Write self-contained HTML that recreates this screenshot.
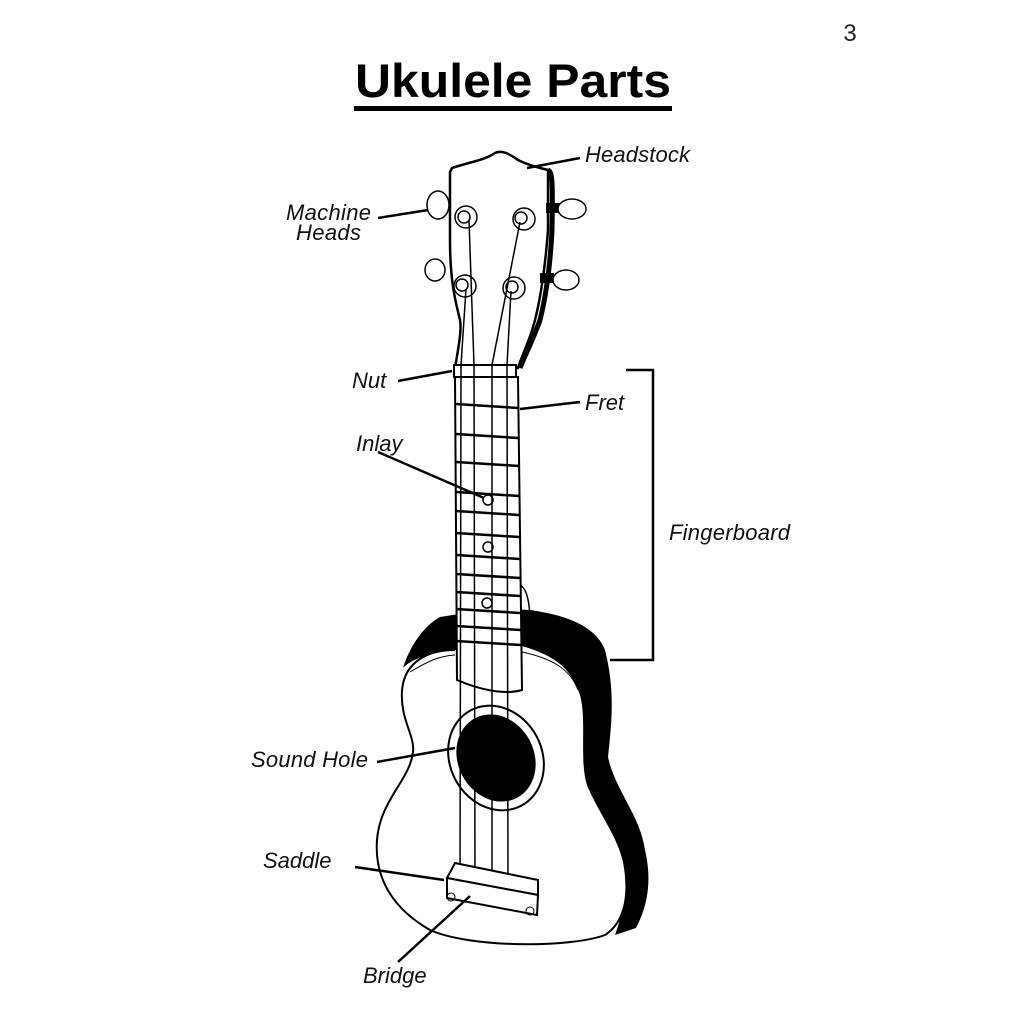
<!DOCTYPE html>
<html><head><meta charset="utf-8"><style>
html,body{margin:0;padding:0;background:#fff;}
svg{display:block}
text{font-family:"Liberation Sans",sans-serif;}
.l{font-style:italic;font-size:22px;fill:#111}
</style></head><body>
<svg width="1024" height="1024" viewBox="0 0 1024 1024" xmlns="http://www.w3.org/2000/svg">
<text x="850" y="41" font-size="24" text-anchor="middle" fill="#222">3</text>
<text x="355" y="97" font-size="47" font-weight="bold" textLength="316" lengthAdjust="spacingAndGlyphs" fill="#000">Ukulele Parts</text>
<rect x="354" y="106" width="318" height="5" fill="#000"/>

<!-- body black side -->
<path d="M440,617 C470,612 500,608 530,610 C565,615 595,625 605,650 C615,690 612,720 608,757 C615,790 640,815 645,850 C652,880 648,905 636,928 L615,935 C628,900 626,865 612,835 C596,805 583,785 583,760 C585,720 585,695 570,675 C555,655 540,648 522,645 L455,650 C430,652 410,660 403,668 C410,645 425,625 440,617 Z" fill="#000"/>
<!-- body front -->
<path d="M455,650 C430,650 405,660 402,690 C400,720 415,735 413,752 C410,780 380,800 377,840 C374,880 395,910 430,930 C470,948 570,948 605,935 C625,922 630,895 624,862 C618,835 598,810 588,785 C580,760 588,720 581,695 C573,670 558,655 522,645" fill="#fff" stroke="#000" stroke-width="2"/>
<path d="M410,672 C430,660 440,656 455,655 M522,652 C550,658 570,668 578,690" stroke="#000" stroke-width="1" fill="none"/>
<!-- sound hole -->
<ellipse cx="496" cy="758" rx="54" ry="46" transform="rotate(62 496 758)" fill="#fff" stroke="#000" stroke-width="2"/>
<ellipse cx="496" cy="758" rx="45" ry="38" transform="rotate(62 496 758)" fill="#000"/>

<!-- headstock -->
<path d="M452,168 C470,162 485,160 495,153 C502,150 508,153 518,160 C530,166 540,168 548,170 L548,230 C545,270 540,300 535,320 C530,340 522,355 518,368 L455,368 C458,350 462,330 460,320 C455,300 450,280 450,240 L450,172 Z" fill="#fff" stroke="#000" stroke-width="2.5"/>
<path d="M548,170 C552,172 553,178 552,230 C550,270 545,300 540,320 C533,340 525,355 520,368" fill="none" stroke="#000" stroke-width="5"/>
<!-- machine heads -->
<ellipse cx="438" cy="205" rx="11" ry="14" fill="#fff" stroke="#000" stroke-width="1.5"/>
<ellipse cx="435" cy="270" rx="10" ry="11" fill="#fff" stroke="#000" stroke-width="1.5"/>
<rect x="546" y="203" width="14" height="10" fill="#000"/>
<rect x="540" y="273" width="14" height="10" fill="#000"/>
<ellipse cx="572" cy="209" rx="14" ry="10" fill="#fff" stroke="#000" stroke-width="1.5"/>
<ellipse cx="566" cy="280" rx="13" ry="10" fill="#fff" stroke="#000" stroke-width="1.5"/>
<g fill="#fff" stroke="#000" stroke-width="1.5">
<circle cx="466" cy="217" r="11"/><circle cx="464" cy="217" r="6"/>
<circle cx="524" cy="219" r="11"/><circle cx="521" cy="218" r="6"/>
<circle cx="465" cy="286" r="11"/><circle cx="462" cy="285" r="6"/>
<circle cx="514" cy="288" r="11"/><circle cx="512" cy="287" r="6"/>
</g>
<!-- fingerboard -->
<path d="M455,377 L518,377 L522,690 C505,695 480,690 457,680 Z" fill="#fff" stroke="#000" stroke-width="2"/>
<path d="M520,585 C530,590 532,620 528,645 L522,645" fill="none" stroke="#000" stroke-width="1.5"/>
<g stroke="#000" stroke-width="2.5">
<line x1="456" y1="404" x2="518" y2="408"/><line x1="456" y1="434" x2="518" y2="438"/>
<line x1="456" y1="462" x2="519" y2="466"/><line x1="456" y1="492" x2="519" y2="496"/>
<line x1="456" y1="511" x2="519" y2="515"/><line x1="456" y1="533" x2="519" y2="537"/>
<line x1="456" y1="555" x2="520" y2="559"/><line x1="456" y1="574" x2="520" y2="578"/>
<line x1="456" y1="592" x2="520" y2="596"/><line x1="456" y1="609" x2="520" y2="613"/>
<line x1="456" y1="626" x2="521" y2="630"/><line x1="456" y1="641" x2="521" y2="645"/>
</g>
<g fill="#fff" stroke="#000" stroke-width="1.5">
<circle cx="488" cy="500" r="5"/><circle cx="488" cy="547" r="5"/><circle cx="487" cy="603" r="5"/>
</g>
<!-- nut -->
<rect x="454" y="365" width="62" height="12" fill="#fff" stroke="#000" stroke-width="2"/>
<!-- strings -->
<g stroke="#000" stroke-width="1.5" fill="none">
<path d="M469,220 L474,365 L475,880"/>
<path d="M466,289 L461,365 L460,880"/>
<path d="M520,222 L492,365 L492,880"/>
<path d="M511,291 L507,365 L508,880"/>
</g>
<!-- bridge -->
<path d="M447,878 L455,863 L538,880 L538,895 Z" fill="#fff" stroke="#000" stroke-width="2"/>
<path d="M447,878 L538,895 L537,915 L447,898 Z" fill="#fff" stroke="#000" stroke-width="2"/>
<circle cx="451" cy="897" r="4" fill="none" stroke="#000"/><circle cx="530" cy="911" r="4" fill="none" stroke="#000"/>

<!-- leader lines -->
<g stroke="#000" stroke-width="2.5" fill="none">
<line x1="527" y1="168" x2="580" y2="158"/>
<line x1="378" y1="218" x2="428" y2="210"/>
<line x1="398" y1="381" x2="452" y2="371"/>
<line x1="520" y1="409" x2="580" y2="402"/>
<line x1="378" y1="452" x2="484" y2="498"/>
<polyline points="626,370 653,370 653,660 610,660"/>
<line x1="377" y1="762" x2="455" y2="748"/>
<line x1="355" y1="867" x2="444" y2="880"/>
<line x1="398" y1="962" x2="470" y2="896"/>
</g>
<!-- labels -->
<text class="l" x="585" y="162" textLength="105">Headstock</text>
<text class="l" x="286" y="220" textLength="85">Machine</text>
<text class="l" x="296" y="240" textLength="65">Heads</text>
<text class="l" x="352" y="388">Nut</text>
<text class="l" x="585" y="410">Fret</text>
<text class="l" x="356" y="451">Inlay</text>
<text class="l" x="669" y="540" textLength="121">Fingerboard</text>
<text class="l" x="251" y="767" textLength="117">Sound Hole</text>
<text class="l" x="263" y="868">Saddle</text>
<text class="l" x="363" y="983">Bridge</text>
</svg>
</body></html>
